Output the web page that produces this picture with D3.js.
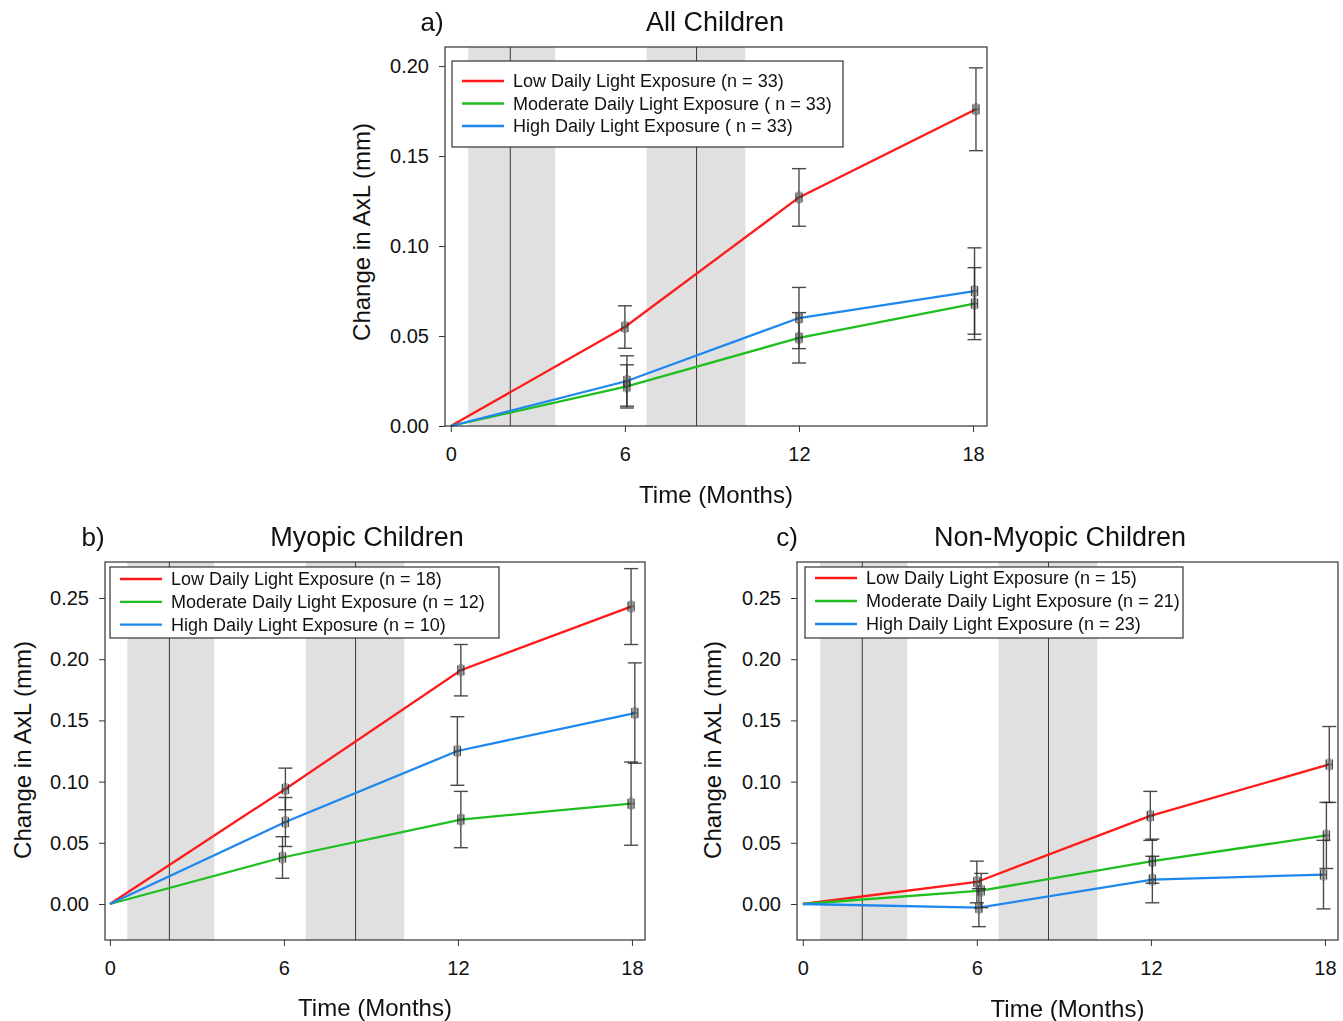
<!DOCTYPE html>
<html>
<head>
<meta charset="utf-8">
<script src="https://cdn.jsdelivr.net/npm/d3@7"></script>
<style>
  body { margin: 0; background: #fff; }
  svg { display: block; font-family: Arial, "Liberation Sans", sans-serif; }
</style>
</head>
<body>
<svg id="chart" width="1343" height="1021"></svg>
<script>
// ---------------- DATA ----------------
const seriesNames = ["Low Daily Light Exposure", "Moderate Daily Light Exposure", "High Daily Light Exposure"];
const xTicks = [0, 6, 12, 18];
const yTicksA = [0.00, 0.05, 0.10, 0.15, 0.20];
const yTicksBC = [0.00, 0.05, 0.10, 0.15, 0.20, 0.25];
const shadeBands = [[0.6, 3.6], [6.75, 10.15]];
const shadeLines = [2.05, 8.47];

// Panel a) All Children
const aTitle = "All Children";
const aLegend = ["Low Daily Light Exposure (n = 33)", "Moderate Daily Light Exposure ( n = 33)", "High Daily Light Exposure ( n = 33)"];
const aLowX = [0, 6.0, 12.0, 18.1];
const aLowY = [0, 0.055, 0.127, 0.176];
const aLowErr = [0, 0.0118, 0.016, 0.023];
const aModX = [0, 6.07, 12.0, 18.05];
const aModY = [0, 0.022, 0.049, 0.068];
const aModErr = [0, 0.012, 0.014, 0.020];
const aHighX = [0, 6.07, 12.0, 18.05];
const aHighY = [0, 0.025, 0.060, 0.075];
const aHighErr = [0, 0.014, 0.017, 0.024];

// Panel b) Myopic Children
const bTitle = "Myopic Children";
const bLegend = ["Low Daily Light Exposure (n = 18)", "Moderate Daily Light Exposure (n = 12)", "High Daily Light Exposure (n = 10)"];
const bLowX = [0, 6.05, 12.1, 17.97];
const bLowY = [0, 0.094, 0.191, 0.243];
const bLowErr = [0, 0.017, 0.021, 0.031];
const bModX = [0, 5.95, 12.1, 17.97];
const bModY = [0, 0.038, 0.069, 0.082];
const bModErr = [0, 0.017, 0.023, 0.034];
const bHighX = [0, 6.05, 11.98, 18.1];
const bHighY = [0, 0.067, 0.125, 0.156];
const bHighErr = [0, 0.020, 0.028, 0.041];

// Panel c) Non-Myopic Children
const cTitle = "Non-Myopic Children";
const cLegend = ["Low Daily Light Exposure (n = 15)", "Moderate Daily Light Exposure (n = 21)", "High Daily Light Exposure (n = 23)"];
const cLowX = [0, 6.0, 11.98, 18.15];
const cLowY = [0, 0.018, 0.072, 0.114];
const cLowErr = [0, 0.017, 0.020, 0.031];
const cModX = [0, 6.15, 12.05, 18.05];
const cModY = [0, 0.011, 0.035, 0.056];
const cModErr = [0, 0.014, 0.018, 0.027];
const cHighX = [0, 6.07, 12.05, 17.95];
const cHighY = [0, -0.003, 0.020, 0.024];
const cHighErr = [0, 0.0155, 0.019, 0.028];

const colors = ["#ff1a1a", "#1fbf1f", "#1e88ee"];

// ---------------- DRAW ----------------
const svg = d3.select("#chart");

function panel(opt) {
  const g = svg.append("g");
  const x = d3.scaleLinear().domain(opt.xDomain).range([opt.left, opt.right]);
  const y = d3.scaleLinear().domain(opt.yDomain).range([opt.bottom, opt.top]);

  // shaded bands
  g.selectAll("rect.band").data(shadeBands).join("rect")
    .attr("x", d => x(d[0])).attr("width", d => x(d[1]) - x(d[0]))
    .attr("y", opt.top).attr("height", opt.bottom - opt.top)
    .attr("fill", "#e0e0e0");
  g.selectAll("line.sl").data(shadeLines).join("line")
    .attr("x1", d => x(d)).attr("x2", d => x(d))
    .attr("y1", opt.top).attr("y2", opt.bottom)
    .attr("stroke", "#3a3a3a").attr("stroke-width", 1);

  // axes
  const xAxis = d3.axisBottom(x).tickValues(xTicks).tickSize(6).tickFormat(d3.format("d"));
  const yAxis = d3.axisLeft(y).tickValues(opt.yTicks).tickSize(6).tickFormat(d3.format(".2f"));
  const gx = g.append("g").attr("transform", `translate(0,${opt.bottom})`).call(xAxis);
  const gy = g.append("g").attr("transform", `translate(${opt.left},0)`).call(yAxis);
  [gx, gy].forEach(a => {
    a.select(".domain").remove();
    a.selectAll(".tick line").attr("stroke", "#333");
    a.selectAll(".tick text").attr("font-size", 20).attr("fill", "#111")
      .attr("font-family", "Arial, 'Liberation Sans', sans-serif");
  });
  gx.selectAll(".tick text").attr("y", 35).attr("dy", 0);
  gy.selectAll(".tick text").attr("dx", "-0.35em");

  // series
  const series = opt.series;
  const line = d3.line().x(d => x(d.x)).y(d => y(d.y));
  series.forEach((s, i) => {
    const pts = s.xs.map((v, k) => ({ x: v, y: s.ys[k], e: s.es[k] }));
    g.append("path").datum(pts).attr("d", line)
      .attr("fill", "none").attr("stroke", colors[i]).attr("stroke-width", 2.3);
  });
  // error bars
  series.forEach((s, i) => {
    const pts = s.xs.map((v, k) => ({ x: v, y: s.ys[k], e: s.es[k] })).filter(d => d.e > 0);
    const eg = g.append("g").attr("stroke", "#2a2a2a").attr("stroke-width", 1.4).attr("opacity", 0.85);
    pts.forEach(d => {
      const cx = x(d.x), cy = y(d.y), yt = y(d.y + d.e), yb = y(d.y - d.e);
      eg.append("line").attr("x1", cx).attr("x2", cx).attr("y1", yt).attr("y2", yb);
      eg.append("line").attr("x1", cx - 7).attr("x2", cx + 7).attr("y1", yt).attr("y2", yt);
      eg.append("line").attr("x1", cx - 7).attr("x2", cx + 7).attr("y1", yb).attr("y2", yb);
      // small horizontal error bar
      eg.append("line").attr("x1", cx - 3).attr("x2", cx + 3).attr("y1", cy).attr("y2", cy);
      eg.append("line").attr("x1", cx - 3).attr("x2", cx - 3).attr("y1", cy - 5).attr("y2", cy + 5);
      eg.append("line").attr("x1", cx + 3).attr("x2", cx + 3).attr("y1", cy - 5).attr("y2", cy + 5);
      eg.append("rect").attr("x", cx - 2).attr("y", cy - 6).attr("width", 4).attr("height", 12)
        .attr("fill", "#555").attr("stroke", "none").attr("opacity", 0.7);
    });
  });

  // frame
  g.append("rect").attr("x", opt.left).attr("y", opt.top)
    .attr("width", opt.right - opt.left).attr("height", opt.bottom - opt.top)
    .attr("fill", "none").attr("stroke", "#333").attr("stroke-width", 1.2);

  // legend
  const L = opt.legend;
  const lg = g.append("g");
  lg.append("rect").attr("x", L.x).attr("y", L.y).attr("width", L.w).attr("height", L.h)
    .attr("fill", "#fff").attr("stroke", "#333").attr("stroke-width", 1.2);
  opt.legendText.forEach((t, i) => {
    const yy = L.y + L.first + i * L.step;
    lg.append("line").attr("x1", L.x + 10).attr("x2", L.x + 52).attr("y1", yy).attr("y2", yy)
      .attr("stroke", colors[i]).attr("stroke-width", 2.3);
    lg.append("text").attr("x", L.x + 61).attr("y", yy).attr("dy", "0.35em")
      .attr("font-size", 18).attr("fill", "#111").text(t);
  });

  // titles & labels
  g.append("text").attr("x", opt.titleX).attr("y", opt.titleY).attr("text-anchor", "middle")
    .attr("font-size", 27).attr("fill", "#111").text(opt.title);
  g.append("text").attr("x", opt.tagX).attr("y", opt.titleY).attr("text-anchor", "middle")
    .attr("font-size", 26).attr("fill", "#111").text(opt.tag);
  g.append("text").attr("x", (opt.left + opt.right) / 2).attr("y", opt.xLabelY).attr("text-anchor", "middle")
    .attr("font-size", 24).attr("fill", "#111").text("Time (Months)");
  g.append("text").attr("transform", `translate(${opt.yLabelX},${opt.yLabelY}) rotate(-90)`)
    .attr("text-anchor", "middle").attr("font-size", 24).attr("fill", "#111").text("Change in AxL (mm)");
}

panel({
  left: 445, right: 987, top: 47, bottom: 426,
  xDomain: [-0.2, 18.48], yDomain: [0, 0.2106], yTicks: yTicksA,
  series: [
    { xs: aLowX, ys: aLowY, es: aLowErr },
    { xs: aModX, ys: aModY, es: aModErr },
    { xs: aHighX, ys: aHighY, es: aHighErr }
  ],
  legend: { x: 452, y: 61, w: 391, h: 86, first: 20, step: 22.5 },
  legendText: aLegend,
  title: aTitle, tag: "a)", titleX: 715, tagX: 432, titleY: 31,
  xLabelY: 503, yLabelX: 370, yLabelY: 232
});

panel({
  left: 105, right: 645, top: 562, bottom: 940,
  xDomain: [-0.17, 18.45], yDomain: [-0.0294, 0.2794], yTicks: yTicksBC,
  series: [
    { xs: bLowX, ys: bLowY, es: bLowErr },
    { xs: bModX, ys: bModY, es: bModErr },
    { xs: bHighX, ys: bHighY, es: bHighErr }
  ],
  legend: { x: 110, y: 567, w: 389, h: 71, first: 12, step: 22.8 },
  legendText: bLegend,
  title: bTitle, tag: "b)", titleX: 367, tagX: 93, titleY: 546,
  xLabelY: 1016, yLabelX: 31, yLabelY: 750
});

panel({
  left: 797, right: 1338, top: 562, bottom: 940,
  xDomain: [-0.2, 18.45], yDomain: [-0.0294, 0.2794], yTicks: yTicksBC,
  series: [
    { xs: cLowX, ys: cLowY, es: cLowErr },
    { xs: cModX, ys: cModY, es: cModErr },
    { xs: cHighX, ys: cHighY, es: cHighErr }
  ],
  legend: { x: 805, y: 567, w: 378, h: 71, first: 11, step: 23 },
  legendText: cLegend,
  title: cTitle, tag: "c)", titleX: 1060, tagX: 787, titleY: 546,
  xLabelY: 1017, yLabelX: 721, yLabelY: 750
});
</script>
</body>
</html>
